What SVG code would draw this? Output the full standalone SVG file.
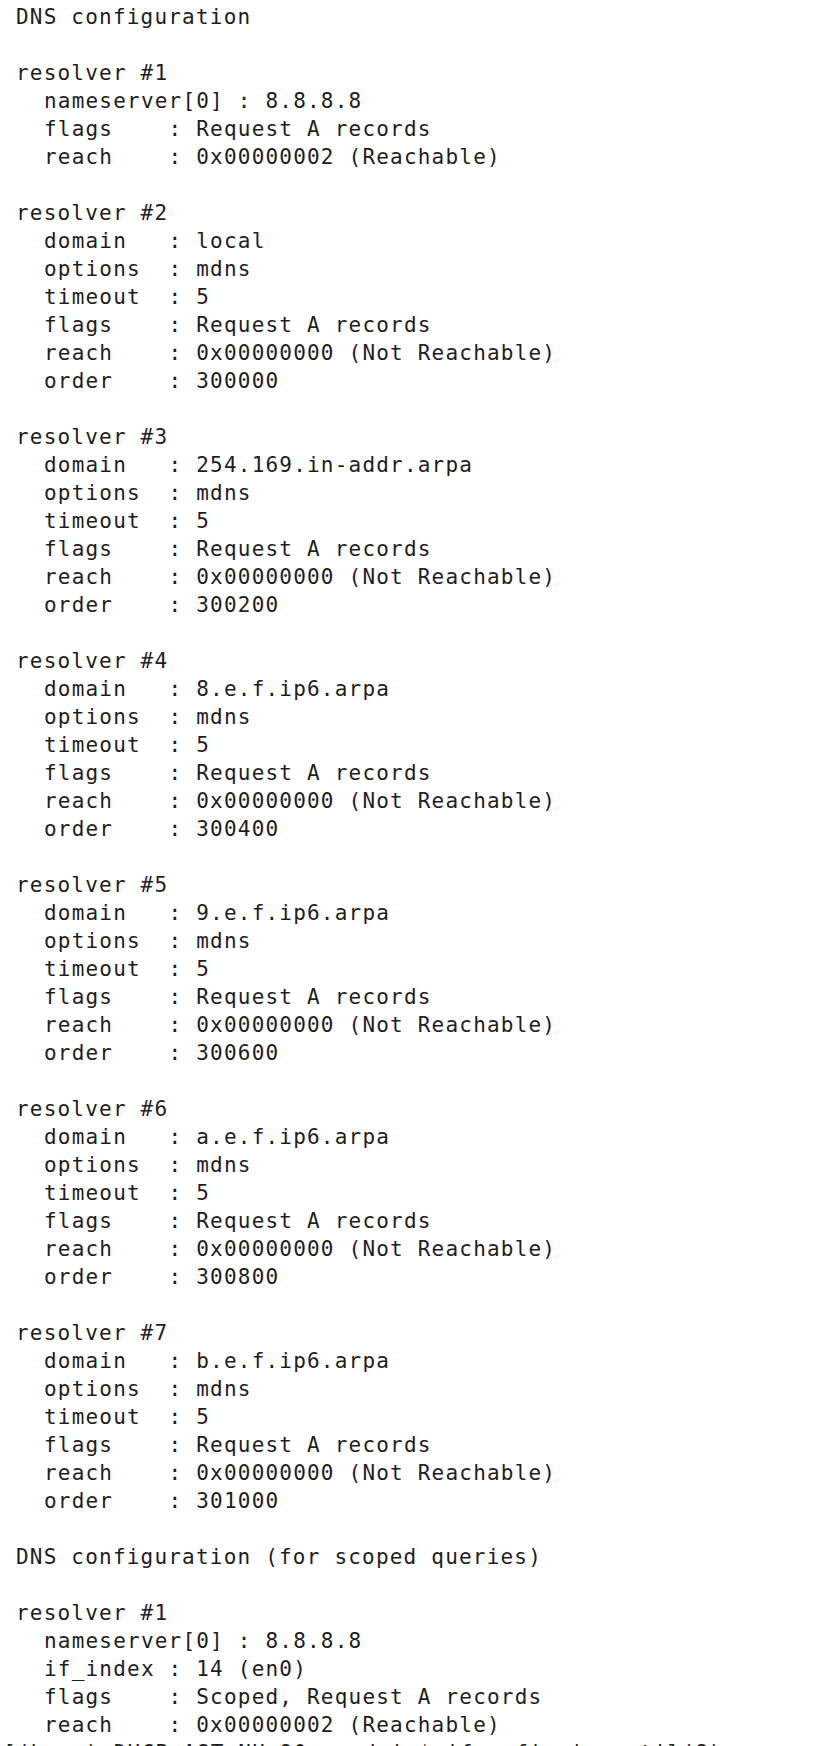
<svg xmlns="http://www.w3.org/2000/svg" width="830" height="1746" viewBox="0 0 830 1746">
<style>
text{font-family:"DejaVu Sans Mono","Liberation Mono",monospace;font-size:21px;letter-spacing:1.2px;fill:#1e1e1e;white-space:pre}
</style>
<rect width="830" height="1746" fill="#ffffff"/>
<g id="header1"><text x="16" y="24">DNS configuration</text></g>
<g id="r1"><text x="16" y="80">resolver #1</text>
<text x="44" y="108">nameserver[0] : 8.8.8.8</text>
<text x="44" y="136">flags    : Request A records</text>
<text x="44" y="164">reach    : 0x00000002 (Reachable)</text></g>
<g id="r2"><text x="16" y="220">resolver #2</text>
<text x="44" y="248">domain   : local</text>
<text x="44" y="276">options  : mdns</text>
<text x="44" y="304">timeout  : 5</text>
<text x="44" y="332">flags    : Request A records</text>
<text x="44" y="360">reach    : 0x00000000 (Not Reachable)</text>
<text x="44" y="388">order    : 300000</text></g>
<g id="r3"><text x="16" y="444">resolver #3</text>
<text x="44" y="472">domain   : 254.169.in-addr.arpa</text>
<text x="44" y="500">options  : mdns</text>
<text x="44" y="528">timeout  : 5</text>
<text x="44" y="556">flags    : Request A records</text>
<text x="44" y="584">reach    : 0x00000000 (Not Reachable)</text>
<text x="44" y="612">order    : 300200</text></g>
<g id="r4"><text x="16" y="668">resolver #4</text>
<text x="44" y="696">domain   : 8.e.f.ip6.arpa</text>
<text x="44" y="724">options  : mdns</text>
<text x="44" y="752">timeout  : 5</text>
<text x="44" y="780">flags    : Request A records</text>
<text x="44" y="808">reach    : 0x00000000 (Not Reachable)</text>
<text x="44" y="836">order    : 300400</text></g>
<g id="r5"><text x="16" y="892">resolver #5</text>
<text x="44" y="920">domain   : 9.e.f.ip6.arpa</text>
<text x="44" y="948">options  : mdns</text>
<text x="44" y="976">timeout  : 5</text>
<text x="44" y="1004">flags    : Request A records</text>
<text x="44" y="1032">reach    : 0x00000000 (Not Reachable)</text>
<text x="44" y="1060">order    : 300600</text></g>
<g id="r6"><text x="16" y="1116">resolver #6</text>
<text x="44" y="1144">domain   : a.e.f.ip6.arpa</text>
<text x="44" y="1172">options  : mdns</text>
<text x="44" y="1200">timeout  : 5</text>
<text x="44" y="1228">flags    : Request A records</text>
<text x="44" y="1256">reach    : 0x00000000 (Not Reachable)</text>
<text x="44" y="1284">order    : 300800</text></g>
<g id="r7"><text x="16" y="1340">resolver #7</text>
<text x="44" y="1368">domain   : b.e.f.ip6.arpa</text>
<text x="44" y="1396">options  : mdns</text>
<text x="44" y="1424">timeout  : 5</text>
<text x="44" y="1452">flags    : Request A records</text>
<text x="44" y="1480">reach    : 0x00000000 (Not Reachable)</text>
<text x="44" y="1508">order    : 301000</text></g>
<g id="header2"><text x="16" y="1564">DNS configuration (for scoped queries)</text></g>
<g id="s1"><text x="16" y="1620">resolver #1</text>
<text x="44" y="1648">nameserver[0] : 8.8.8.8</text>
<text x="44" y="1676">if_index : 14 (en0)</text>
<text x="44" y="1704">flags    : Scoped, Request A records</text>
<text x="44" y="1732">reach    : 0x00000002 (Reachable)</text></g>
<g id="prompt"><text x="3" y="1760">[(base) DHCP-AST-NU-90 ~ admin$ ifconfig | scutil(8)</text></g>
<g id="connectors"></g>
</svg>
